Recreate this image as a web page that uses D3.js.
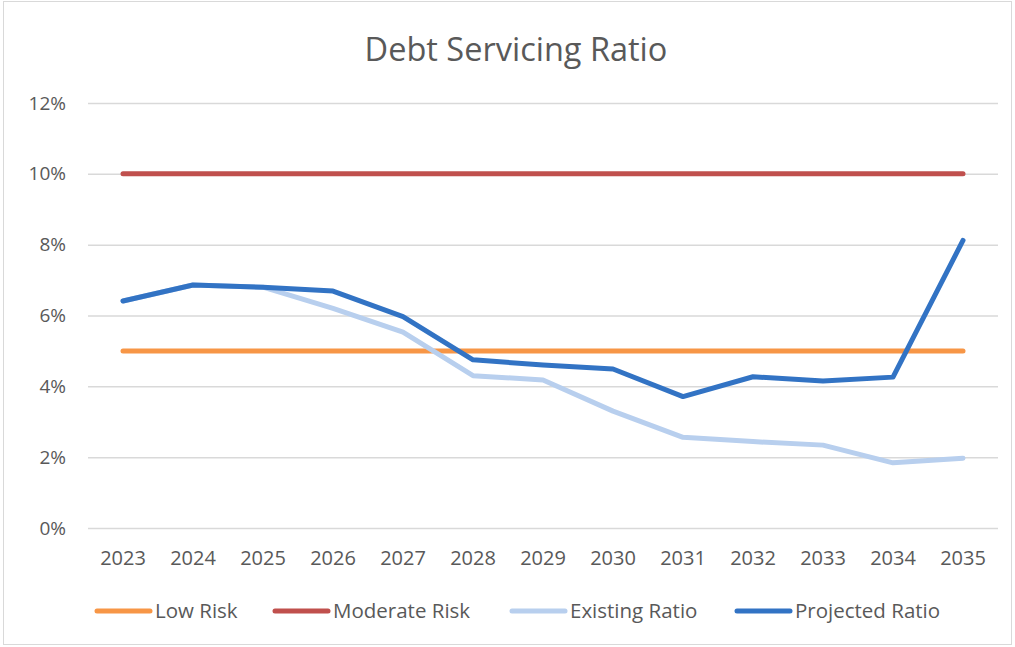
<!DOCTYPE html>
<html><head><meta charset="utf-8">
<script src="https://cdn.jsdelivr.net/npm/d3@7"></script>
<style>body{margin:0;background:#fff;} svg{display:block;font-family:"Open Sans",sans-serif;}</style>
</head><body>
<svg id="c" width="1015" height="647"></svg>
<script>
const years = ["2023","2024","2025","2026","2027","2028","2029","2030","2031","2032","2033","2034","2035"];
const lowRisk = [5,5,5,5,5,5,5,5,5,5,5,5,5];
const moderateRisk = [10,10,10,10,10,10,10,10,10,10,10,10,10];
const existingRatio = [6.41,6.86,6.80,6.20,5.53,4.30,4.18,3.30,2.56,2.44,2.34,1.84,1.97];
const projectedRatio = [6.41,6.86,6.80,6.69,5.97,4.75,4.60,4.49,3.71,4.27,4.15,4.26,8.12];
const yTicks = [0,2,4,6,8,10,12];
const series = [
  {name:"Low Risk", values:lowRisk, color:"#F79646"},
  {name:"Moderate Risk", values:moderateRisk, color:"#C0504D"},
  {name:"Existing Ratio", values:existingRatio, color:"#B8CFEE"},
  {name:"Projected Ratio", values:projectedRatio, color:"#3273C4"}
];
const svg = d3.select("#c");
svg.append("rect").attr("x",3.5).attr("y",1.5).attr("width",1008).attr("height",643)
  .attr("fill","#fff").attr("stroke","#d9d9d9");
const x = d3.scaleBand().domain(years).range([88,998]);
const y = d3.scaleLinear().domain([0,12]).range([528,103]);
const txt = "#595959";
svg.append("text").attr("x",516).attr("y",61).attr("text-anchor","middle")
  .attr("font-size",32.5).attr("fill",txt).text("Debt Servicing Ratio");
const yAxis = svg.append("g").attr("transform","translate(88,0)")
  .call(d3.axisLeft(y).tickValues(yTicks).tickSize(-910).tickFormat(d=>d+"%"));
yAxis.select(".domain").remove();
yAxis.selectAll("line").attr("stroke","#d9d9d9").attr("stroke-width",1.5);
yAxis.selectAll("text").attr("x",-22).attr("font-size",19).attr("fill",txt).attr("font-family","Open Sans");
const xAxis = svg.append("g").attr("transform","translate(0,528)")
  .call(d3.axisBottom(x).tickSize(0));
xAxis.select(".domain").remove();
xAxis.selectAll("text").attr("dy","0").attr("y",37).attr("font-size",20).attr("fill",txt).attr("font-family","Open Sans");
const line = d3.line().x((d,i)=>x(years[i])+x.bandwidth()/2).y(d=>y(d));
series.forEach(s=>{
  svg.append("path").datum(s.values).attr("d",line).attr("fill","none")
    .attr("stroke",s.color).attr("stroke-width",5).attr("stroke-linecap","round").attr("stroke-linejoin","round");
});
const legX = [97,275,512,737];
series.forEach((s,i)=>{
  const g = svg.append("g").attr("transform",`translate(${legX[i]},611)`);
  g.append("line").attr("x1",0).attr("x2",53).attr("stroke",s.color).attr("stroke-width",5).attr("stroke-linecap","round");
  g.append("text").attr("x",58).attr("y",7).attr("font-size",20.5).attr("fill",txt).text(s.name);
});
</script>
</body></html>
